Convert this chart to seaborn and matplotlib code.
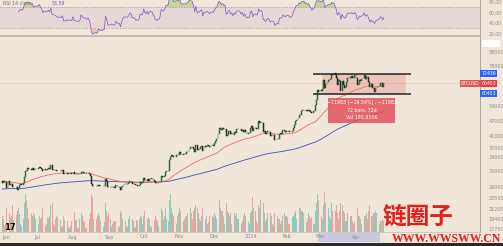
import numpy as np
import pandas as pd
import matplotlib
matplotlib.use("Agg")
import matplotlib.pyplot as plt
import matplotlib.dates as mdates
from matplotlib.ticker import FixedLocator, NullLocator, FuncFormatter
from matplotlib.patches import Rectangle
import seaborn as sns

# ---------------- data (BTCUSD daily) ----------------
close_jun = [26820, 27250, 27070, 27120, 25760, 27240, 26340, 26500, 26480, 25850,
             25940, 25900, 25920, 25120, 25580, 26340, 26510, 26340, 26850, 28320,
             30000, 29900, 30690, 30550, 30470, 30270, 30700, 30080, 30450, 30480]
close_jul = [30590, 30620, 31160, 30770, 30510, 29900, 30350, 30290, 30170, 30410,
             30620, 30390, 31480, 30320, 30300, 30240, 30150, 29860, 29920, 29800,
             29910, 29800, 30090, 29180, 29230, 29350, 29220, 29310, 29350, 29280, 29230]
close_aug = [29700, 29180, 29190, 29110, 29050, 29040, 29180, 29770, 29580, 29430,
             29400, 29420, 29280, 29410, 29170, 28700, 26630, 26050, 26100, 26190,
             26120, 26040, 26430, 26160, 26060, 26010, 26090, 26110, 27730, 27300, 25930]
close_sep = [25800, 25870, 25970, 25810, 25780, 25750, 26240, 25900, 25900, 25840,
             25160, 25850, 26230, 26540, 26600, 26570, 26530, 26760, 27210, 27130,
             26570, 26580, 26580, 26250, 26300, 26220, 26370, 27020, 26910, 26970]
close_oct = [27990, 27500, 27430, 27790, 27410, 27930, 27960, 27970, 27590, 27390,
             26870, 26760, 26860, 26860, 27160, 28520, 28420, 28330, 28720, 29680,
             29920, 29990, 33090, 33920, 34500, 34160, 33910, 34090, 34540, 34500, 34670]
close_nov = [35440, 34940, 34730, 35080, 35050, 35040, 35420, 35650, 36690, 37310,
             37130, 37070, 36490, 35550, 37880, 36160, 36600, 36570, 37360, 37450,
             35810, 37420, 37290, 37720, 37800, 37480, 37250, 37830, 37850, 37720]
close_dec = [38690, 39460, 39970, 41980, 44080, 43750, 43290, 44170, 43720, 43790,
             41240, 41450, 42890, 43020, 41930, 42240, 41360, 42660, 42270, 43650,
             43860, 43990, 43740, 43020, 43610, 42520, 43440, 42580, 42070, 42140, 42280]
close_jan = [44180, 44950, 42850, 44180, 44160, 43970, 43930, 46970, 46110, 46630,
             46340, 42780, 42850, 41730, 42510, 43150, 42740, 41260, 41620, 41670,
             41550, 39510, 39850, 40080, 39930, 41820, 42120, 42030, 43300, 42950, 42570]
close_feb = [43080, 43190, 43010, 42580, 42660, 43090, 44340, 45290, 47150, 47770,
             48290, 49960, 49700, 51790, 51940, 52120, 51650, 52130, 51780, 52270,
             51840, 51300, 50730, 51570, 51730, 54520, 57090, 62500, 61200]
close_mar = [62440, 62030, 63170, 68330, 63800, 66110, 66930, 68300, 68500, 69020,
             72120, 71480, 73100, 71400, 69400, 65300, 68400, 67600, 61900, 67900,
             65500, 63800, 64100, 67200, 69900, 69990, 69450, 70750, 69900, 69700, 71300]
close_apr = [69700, 65450, 66000, 68500, 67840, 68900, 69360, 71600, 69140, 70590,
             70060, 67150, 63900, 65700, 63420, 63800, 61270, 63500, 63800, 64940,
             64940, 66840, 66400, 64300, 66453]

vol_jun = [30, 25, 12, 14, 45, 55, 35, 28, 30, 50, 22, 30, 32, 40, 45, 33, 15, 12, 25, 55,
           70, 60, 45, 25, 20, 35, 30, 35, 32, 25]
vol_jul = [18, 14, 30, 25, 28, 45, 30, 12, 14, 28, 26, 30, 50, 55, 14, 12, 25, 30, 28, 26,
           22, 10, 12, 30, 22, 18, 20, 10, 8, 12, 20]
vol_aug = [40, 38, 22, 22, 8, 7, 25, 35, 30, 20, 18, 8, 7, 20, 25, 35, 70, 65, 25, 12,
           25, 30, 35, 30, 20, 10, 10, 18, 55, 40, 30]
vol_sep = [35, 25, 10, 15, 20, 18, 20, 22, 10, 12, 40, 35, 25, 25, 20, 10, 12, 25, 30, 28,
           25, 20, 8, 10, 22, 20, 25, 30, 28, 15]
vol_oct = [30, 40, 30, 25, 28, 25, 10, 12, 25, 22, 30, 25, 20, 12, 12, 45, 40, 22, 30, 45,
           25, 20, 60, 70, 45, 35, 30, 18, 15, 30, 35]
vol_nov = [45, 40, 35, 20, 25, 30, 30, 35, 60, 45, 35, 25, 40, 45, 50, 45, 35, 25, 20, 30,
           45, 40, 25, 30, 15, 18, 30, 35, 30, 28]
vol_dec = [35, 30, 25, 50, 60, 45, 40, 40, 30, 15, 55, 40, 35, 30, 35, 15, 18, 35, 30, 35,
           25, 25, 12, 15, 20, 30, 35, 30, 25, 18, 15]
vol_jan = [35, 40, 65, 45, 40, 20, 15, 50, 45, 60, 70, 55, 35, 20, 25, 35, 30, 35, 30, 15,
           12, 35, 45, 30, 25, 25, 15, 20, 30, 35, 30]
vol_feb = [30, 28, 15, 15, 25, 28, 30, 35, 40, 25, 20, 45, 45, 40, 40, 35, 20, 18, 25, 35,
           30, 25, 28, 15, 15, 40, 55, 70, 60]
vol_mar = [45, 30, 25, 50, 75, 55, 35, 45, 30, 25, 55, 40, 35, 40, 50, 35, 25, 40, 55, 50,
           40, 35, 20, 20, 35, 30, 30, 30, 20, 15, 18]
vol_apr = [35, 45, 30, 30, 25, 15, 15, 30, 30, 35, 25, 40, 50, 30, 30, 35, 35, 40, 35, 20,
           15, 20, 20, 25, 20]

first_date = "2023-06-01"
prev_close = 27210          # close of the day before the first candle
ema_fast_seed = 27200       # red average at the left edge
ema_slow_seed = 25400       # blue average at the left edge

month_ticks = ["2023-06-01", "2023-07-01", "2023-08-01", "2023-09-01", "2023-10-01",
               "2023-11-01", "2023-12-01", "2024-01-01", "2024-02-01", "2024-03-01",
               "2024-04-01"]
month_labels = ["Jun", "Jul", "Aug", "Sep", "Oct", "Nov", "Dec", "2024", "Feb", "Mar", "Apr"]
price_ticks = [17700, 19400, 21200, 23500, 26000, 30000, 34000, 37000, 41000, 47000,
               54000, 78000, 88000]
rsi_ticks = [20, 40, 60, 80]
rsi_tick_labels = ["20.00", "40.00", "60.00", "80.00"]

range_top = 72436
range_bottom = 60453
range_start, range_end = "2024-02-24", "2024-05-18"
measure_start, measure_end = "2024-03-08", "2024-05-05"
measure_top, measure_bottom = 58300, 46400
measure_lines = ["\u221211983 (\u221216.54%) , \u221211983", "72 bars, 72d", "Vol 180.855K"]
rsi_header = "RSI 14 close"
rsi_value_text = "53.59"
symbol = "BTCUSD"

# ---------------- derived frame ----------------
closes = (close_jun + close_jul + close_aug + close_sep + close_oct + close_nov +
          close_dec + close_jan + close_feb + close_mar + close_apr)
volumes = (vol_jun + vol_jul + vol_aug + vol_sep + vol_oct + vol_nov + vol_dec +
           vol_jan + vol_feb + vol_mar + vol_apr)
dates = pd.date_range(first_date, periods=len(closes), freq="D")
df = pd.DataFrame({"date": dates, "close": closes, "volume": volumes})
df["open"] = df["close"].shift(1).fillna(prev_close)
df["x"] = mdates.date2num(df["date"])
df["up"] = df["close"] >= df["open"]


def ema(series, span, seed):
    a = 2.0 / (span + 1)
    out, v = [], seed
    for c in series:
        v = v + a * (c - v)
        out.append(v)
    return np.array(out)


df["ema_fast"] = ema(df["close"], 50, ema_fast_seed)
df["ema_slow"] = ema(df["close"], 200, ema_slow_seed)
d = df["close"].diff()
gain = d.clip(lower=0).ewm(alpha=1 / 14, adjust=False, min_periods=14).mean()
loss = (-d.clip(upper=0)).ewm(alpha=1 / 14, adjust=False, min_periods=14).mean()
df["rsi"] = 100 - 100 / (1 + gain / loss)

# ---------------- style ----------------
BG = "#f0e6d9"
sns.set_theme(style="white", rc={"figure.facecolor": BG, "axes.facecolor": "none"})
plt.rcParams["font.family"] = ["DejaVu Sans"]
TICK = "#8c8c8c"

W, H = 503, 246
fig = plt.figure(figsize=(W / 100, H / 100), dpi=100)
fig.patch.set_facecolor(BG)

PLOT_W = 480
px = lambda v: v / W
py = lambda v: 1 - v / H

x_left = mdates.date2num(pd.Timestamp("2023-07-01")) - 37 / 1.16
x_right = x_left + PLOT_W / 1.16

# volume axes (behind)
vax = fig.add_axes([0, 14 / H, PLOT_W / W, 196 / H], zorder=0)
vax.set_facecolor("none")
vcols = np.where(df["up"], "#26a69a", "#ef5350")
vax.bar(df["x"], df["volume"], width=0.75, color=vcols, alpha=0.45, linewidth=0)
vax.set_xlim(x_left, x_right)
vax.set_ylim(0, max(volumes) / 0.205)
vax.axis("off")

# main price axes
ax = fig.add_axes([0, 14 / H, PLOT_W / W, 196 / H], zorder=2)
ax.set_facecolor("none")
ax.set_yscale("log")
ax.set_xlim(x_left, x_right)
ax.set_ylim(17200, 102000)

# range box
rs, re_ = mdates.date2num(pd.Timestamp(range_start)), mdates.date2num(pd.Timestamp(range_end))
ax.add_patch(Rectangle((rs + 8, range_bottom), re_ - rs - 12, range_top - range_bottom,
                       facecolor="#e8867f", alpha=0.35, linewidth=0, zorder=1))
ax.hlines([range_top, range_bottom], rs, re_, colors="#222222", linewidth=1.1, zorder=4)

# moving averages
sns.lineplot(x=df["x"], y=df["ema_slow"], ax=ax, color="#3f51b5", linewidth=0.6, zorder=2)
sns.lineplot(x=df["x"], y=df["ema_fast"], ax=ax, color="#e57368", linewidth=0.6, zorder=2)

# candles
ccols = np.where(df["up"], "#2f6b35", "#262626")
ax.bar(df["x"], df["close"] - df["open"], bottom=df["open"], width=0.75, color=ccols,
       edgecolor=ccols, linewidth=0.35, zorder=3)

last = closes[-1]
ax.axhline(last, color="#e0574f", linestyle=(0, (1, 2)), linewidth=0.5, alpha=0.7, zorder=2)

# measurement box
ms, me = mdates.date2num(pd.Timestamp(measure_start)), mdates.date2num(pd.Timestamp(measure_end))
ax.add_patch(Rectangle((ms, measure_bottom), me - ms, measure_top - measure_bottom,
                       facecolor="#e2525a", alpha=0.85, linewidth=0, zorder=5))
ym = np.sqrt(measure_top * measure_bottom)
ax.text((ms + me) / 2, ym, "\n".join(measure_lines), ha="center", va="center",
        fontsize=3.4, color="white", linespacing=1.6, zorder=6)

# axes styling
ax.yaxis.tick_right()
ax.yaxis.set_major_locator(FixedLocator(price_ticks))
ax.yaxis.set_minor_locator(NullLocator())
ax.yaxis.set_major_formatter(FuncFormatter(lambda v, p: f"{int(v)}"))
ax.set_xticks(mdates.date2num(pd.to_datetime(month_ticks)))
ax.set_xticklabels(month_labels)
ax.tick_params(axis="y", length=0, pad=6, labelsize=3.5, labelcolor=TICK)
ax.tick_params(axis="x", length=0, pad=1.8, labelsize=3.5, labelcolor=TICK)
ax.get_xticklabels()[0].set_horizontalalignment("left")
ax.set_xlabel("")
ax.set_ylabel("")
for s in ["top", "left"]:
    ax.spines[s].set_visible(False)
ax.spines["right"].set_color("#9a9a9a")
ax.spines["right"].set_linewidth(0.6)
ax.spines["bottom"].set_color("#cfc4b6")
ax.spines["bottom"].set_linewidth(0.6)

# axis price labels
tr = ax.get_yaxis_transform()
for val, col in [(range_top, "#2962ff"), (range_bottom, "#2962ff"), (last, "#f23645")]:
    ax.text(1.003, val, f"{val}", transform=tr, ha="left", va="center", fontsize=3.3,
            color="white", clip_on=False, zorder=7,
            bbox=dict(boxstyle="square,pad=0.25", facecolor=col, edgecolor="none"))
ax.text(0.999, last, symbol, transform=tr, ha="right", va="center", fontsize=3.3,
        color="white", clip_on=False, zorder=7,
        bbox=dict(boxstyle="square,pad=0.25", facecolor="#e0574f", edgecolor="none"))

# ---------------- RSI panel ----------------
rax = fig.add_axes([0, 1 - 36 / H, PLOT_W / W, 36 / H], zorder=2)
rax.set_facecolor("none")
rax.set_xlim(x_left, x_right)
rax.set_ylim(15.3, 83.9)
rax.axhspan(30, 70, color="#9c7fc9", alpha=0.13, linewidth=0)
for lvl in (30, 70):
    rax.axhline(lvl, color="#9a9a9a", linestyle=(0, (2, 2)), linewidth=0.5)
rx = df["x"].values
rv = df["rsi"].values
rax.fill_between(rx, rv, 70, where=rv > 70, color="#8bc34a", alpha=0.45, linewidth=0,
                 interpolate=True)
rax.fill_between(rx, rv, 30, where=rv < 30, color="#ef9a9a", alpha=0.45, linewidth=0,
                 interpolate=True)
sns.lineplot(x=df["x"], y=df["rsi"], ax=rax, color="#7e57c2", linewidth=0.5)
rax.yaxis.tick_right()
rax.set_yticks(rsi_ticks)
rax.set_yticklabels(rsi_tick_labels)
rax.set_xticks([])
rax.tick_params(axis="y", length=0, pad=6, labelsize=3.3, labelcolor=TICK)
rax.set_xlabel("")
rax.set_ylabel("")
for s in ["top", "left"]:
    rax.spines[s].set_visible(False)
rax.spines["right"].set_color("#9a9a9a")
rax.spines["right"].set_linewidth(0.6)
rax.spines["bottom"].set_color("#bdb3a6")
rax.spines["bottom"].set_linewidth(1.2)
rax.text(0.006, 0.97, rsi_header, transform=rax.transAxes, fontsize=3.4, color="#777777",
         ha="left", va="top")
rax.text(0.107, 0.97, rsi_value_text, transform=rax.transAxes, fontsize=3.4,
         color="#7e57c2", ha="left", va="top")

# ---------------- figure decorations ----------------
# time-axis highlight of measured range
fig.patches.append(Rectangle((px(318), py(242)), px(380) - px(318), (242 - 233) / H,
                             transform=fig.transFigure, facecolor="#b9bde6", alpha=0.7,
                             edgecolor="none", zorder=-1))
# dark strip at the very bottom
fig.patches.append(Rectangle((0, 0), 1, 3.5 / H, transform=fig.transFigure,
                             facecolor="#2a2a2a", edgecolor="none", zorder=10))
# USD selector
fig.patches.append(Rectangle((px(482), py(47)), 18 / W, 7 / H, transform=fig.transFigure,
                             facecolor="white", edgecolor="none", zorder=5))
fig.text(px(484), py(43.5), "USD \u25be", fontsize=3, color="#444444", va="center", ha="left")
# TradingView mark
fig.text(px(4), py(227), "17", fontsize=6, fontweight="bold", color="#111111",
         va="center", ha="left")
# watermark
fig.text(px(418), py(217), "链圈子", fontsize=17, fontweight="bold", color="#e0201b",
         family=["Noto Sans CJK SC", "DejaVu Sans"], ha="center", va="center", zorder=20)
fig.text(px(446), py(238.5), "WWW.WWSWW.CN", fontsize=8.5, fontweight="bold",
         color="#e0201b", family=["Liberation Serif", "DejaVu Serif"], ha="center",
         va="center", zorder=20)

fig.savefig("out.png", dpi=100, facecolor=BG)
